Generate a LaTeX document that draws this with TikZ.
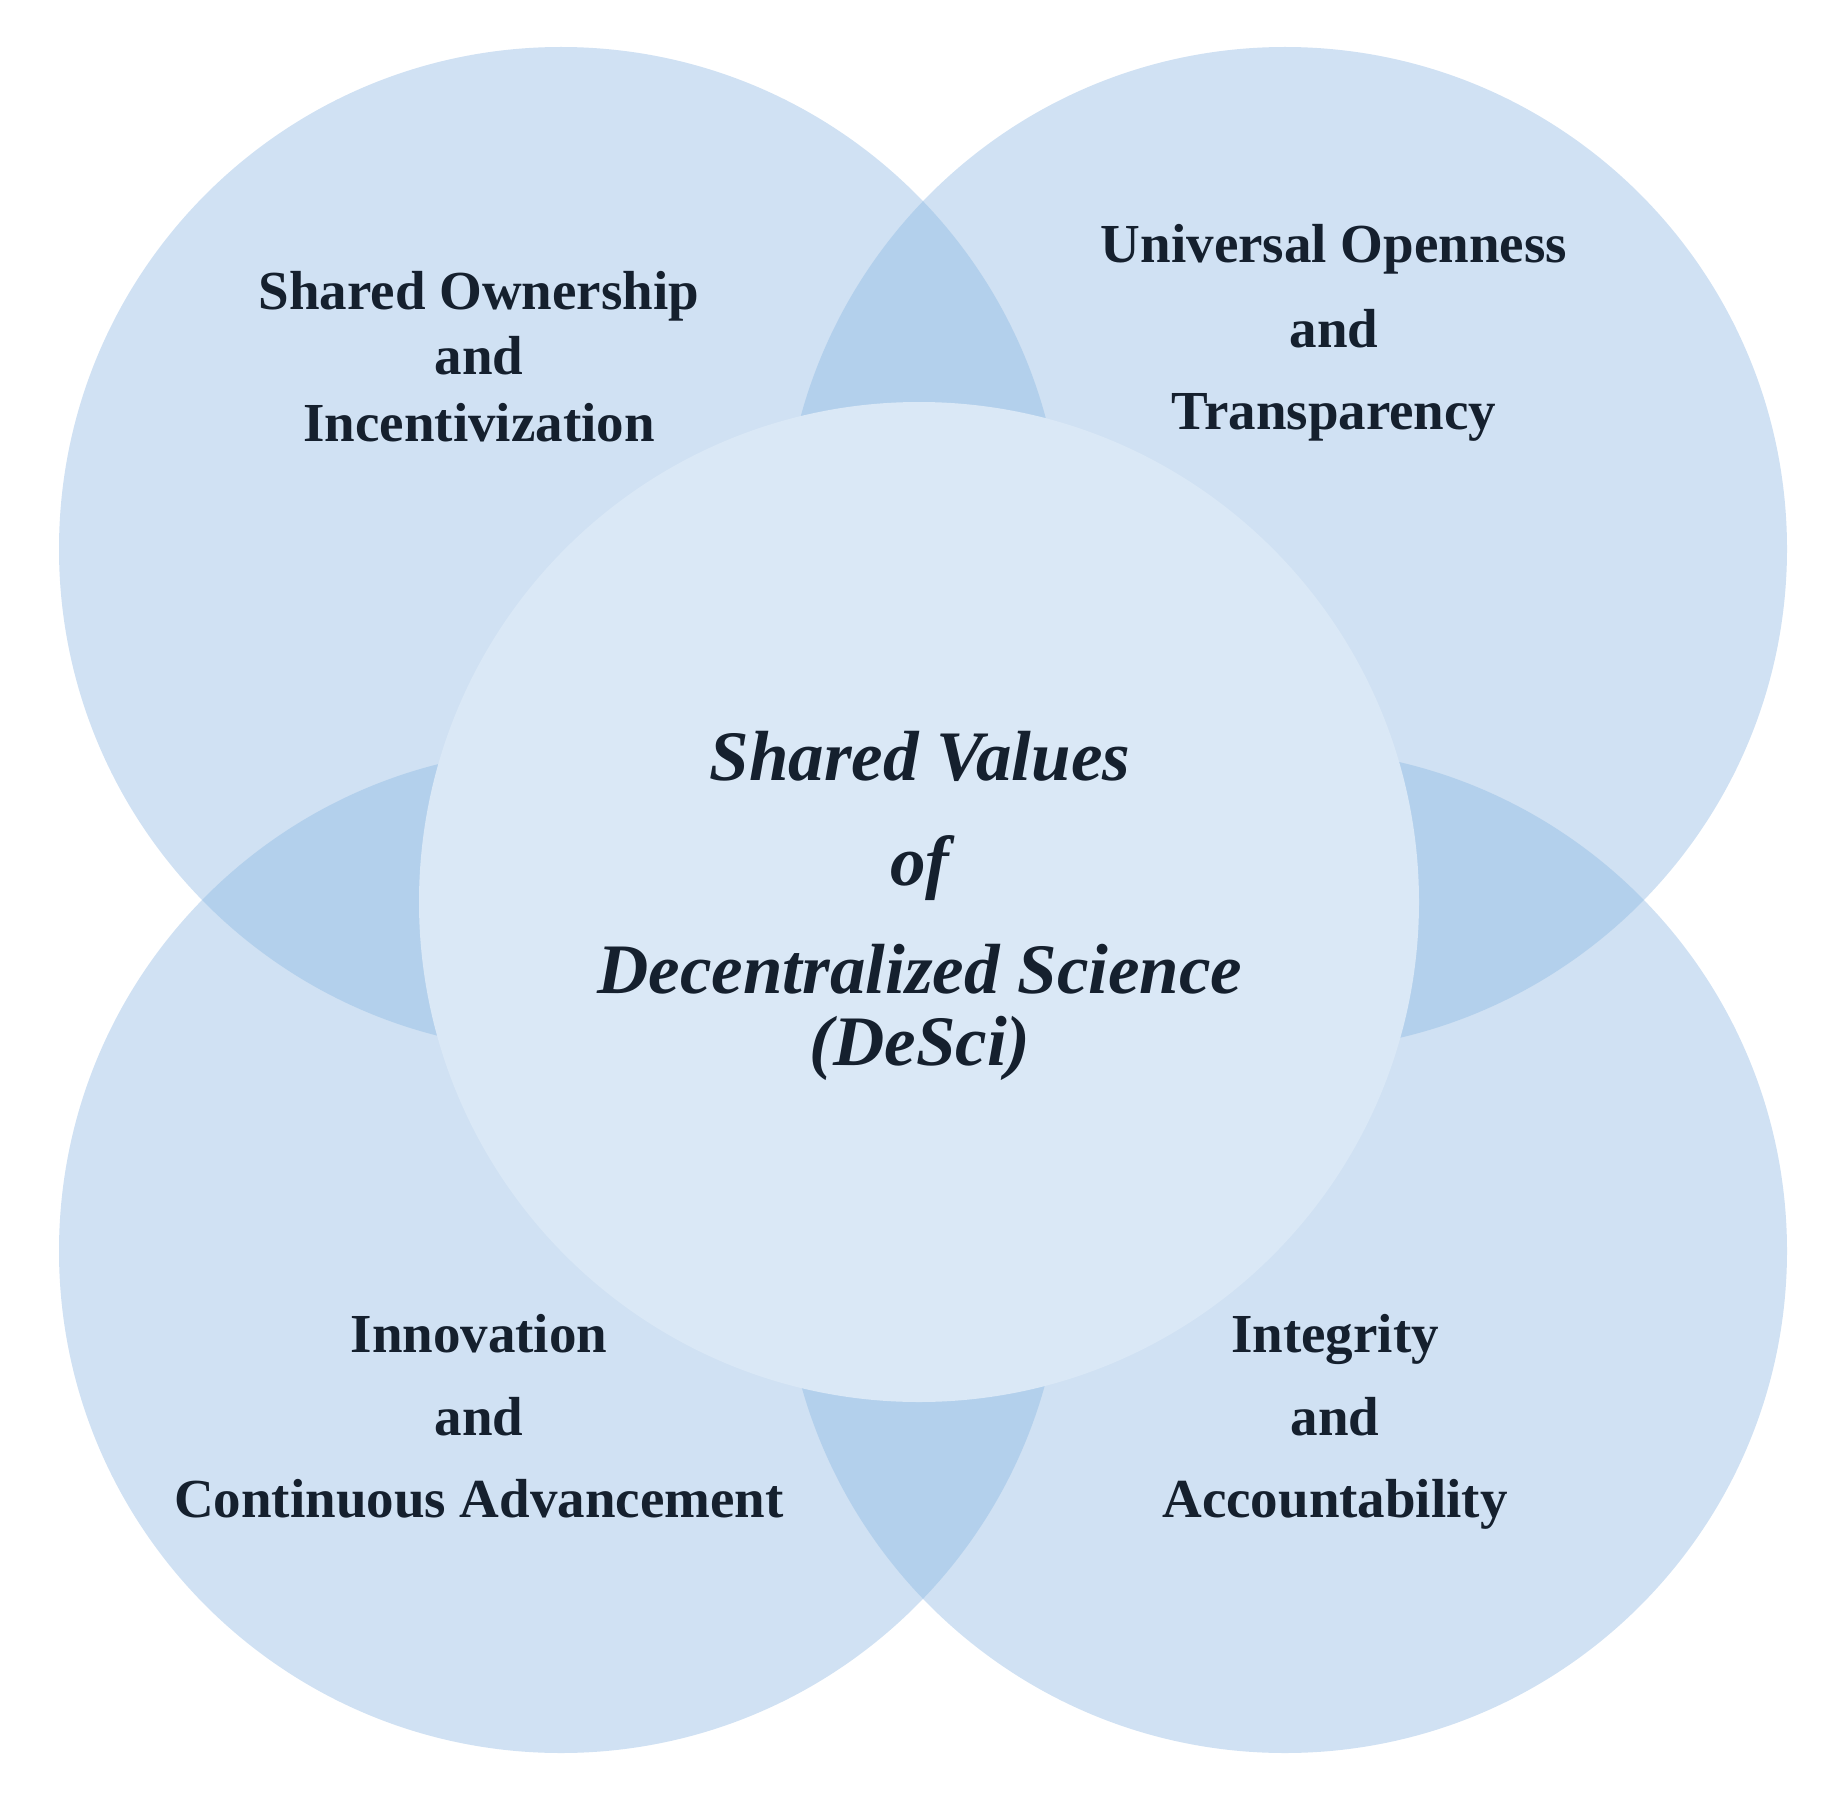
\documentclass[tikz,border=0pt]{standalone}
\usepackage{fontspec}
\setmainfont{Liberation Serif}
\definecolor{outerfill}{HTML}{D0E1F3}
\definecolor{lensfill}{HTML}{B3D0EC}
\definecolor{centerfill}{HTML}{DAE8F6}
\definecolor{txt}{HTML}{15202E}
\tikzset{
  outer/.style={fill=outerfill},
  lens/.style={fill=lensfill},
  core/.style={fill=centerfill},
  lbl/.style={anchor=base, inner sep=0pt, text=txt, font=\fontsize{55}{66}\selectfont\bfseries},
  clbl/.style={anchor=base, inner sep=0pt, text=txt, font=\fontsize{71}{80}\selectfont\bfseries\itshape},
}
\begin{document}
\begin{tikzpicture}[x=1pt,y=-1pt]
\useasboundingbox (0,0) rectangle (1832,1803);
\def\R{502}
\coordinate (ctl) at (561,549);
\coordinate (ctr) at (1285,549);
\coordinate (cbl) at (561,1251);
\coordinate (cbr) at (1285,1251);
\coordinate (cc) at (919,902);
% outer circles
\foreach \c in {ctl,ctr,cbl,cbr} \fill[outer] (\c) circle (\R);
% lenses
\begin{scope}\clip (ctl) circle (\R); \fill[lens] (ctr) circle (\R); \end{scope}
\begin{scope}\clip (ctl) circle (\R); \fill[lens] (cbl) circle (\R); \end{scope}
\begin{scope}\clip (cbr) circle (\R); \fill[lens] (ctr) circle (\R); \end{scope}
\begin{scope}\clip (cbr) circle (\R); \fill[lens] (cbl) circle (\R); \end{scope}
% central circle
\fill[core] (cc) circle (500);
% labels
\node[lbl] (tl1) at (479,310) {Shared Ownership};
\node[lbl] (tl2) at (479,374) {and};
\node[lbl] (tl3) at (479,441) {Incentivization};
\node[lbl] (tr1) at (1334,263) {Universal Openness};
\node[lbl] (tr2) at (1334,348) {and};
\node[lbl] (tr3) at (1334,429) {Transparency};
\node[lbl] (bl1) at (479,1352) {Innovation};
\node[lbl] (bl2) at (479,1435) {and};
\node[lbl] (bl3) at (479,1517) {Continuous Advancement};
\node[lbl] (br1) at (1335,1352) {Integrity};
\node[lbl] (br2) at (1335,1435) {and};
\node[lbl] (br3) at (1335,1517) {Accountability};
\node[clbl] (c1) at (920,780) {Shared Values};
\node[clbl] (c2) at (920,885) {of};
\node[clbl] (c3) at (920,993) {Decentralized Science};
\node[clbl] (c4) at (920,1065) {(DeSci)};
\end{tikzpicture}
\end{document}
